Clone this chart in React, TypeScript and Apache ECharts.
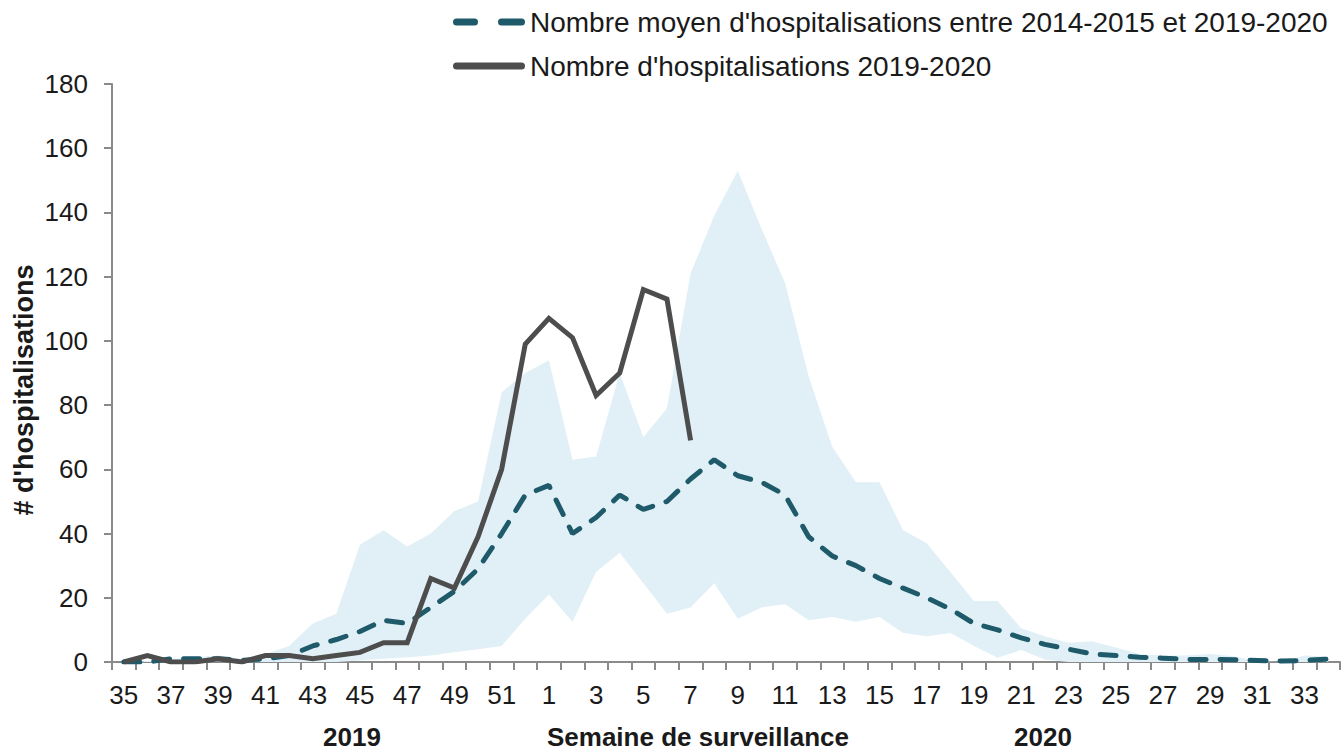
import React, { useEffect, useRef } from "react";
import * as echarts from "echarts";

const weeks = [
  "35","36","37","38","39","40","41","42","43","44","45","46","47","48","49","50","51","52",
  "1","2","3","4","5","6","7","8","9","10","11","12","13","14","15","16","17","18","19","20",
  "21","22","23","24","25","26","27","28","29","30","31","32","33","34",
];

const actual2019 = [0,2,0,0,1,0,2,2,1,2,3,6,6,26,23,39,60,99,107,101,83,90,116,113,69];

const meanHosp = [
  0,0,1,1,1,0.5,1,2,5,7,9.5,13,12,17,22,29,40,52,
  55,40,45,52,47.5,50,57,63,58,56,52,39,33,30,26,23,20,16.5,12,10,
  7.5,5.5,4,2.5,2,1.5,1.2,0.8,0.8,0.7,0.5,0.3,0.5,0.9,
];

const upperBand = [
  0,0.3,1,1.5,2,1,2.5,5,12,15,36.5,41,36,40,47,50,84,90,
  94,63,64,90,70,79,121,139,153,135,118,89,67,56,56,41,37,28,19,19,
  10.5,8,6,6.5,4.5,2.5,2,2,2.5,1.8,0.2,0,2,1.7,
];

const lowerBand = [
  0,0,0,0,0,0,0,0,0,0,0.5,1,1.5,2,3,4,5,13.5,
  21,12.5,28,34,24.5,15,17,24.5,13.5,17,18,13,14,12.5,14,9,8,9,5,1.3,
  3.7,0.8,0,0,0,0,0,0,0,0,0,0,0,0,
];

const yTicks = { min: 0, max: 180, interval: 20 };

const NAME_MEAN = "Nombre moyen d'hospitalisations entre 2014-2015 et 2019-2020";
const NAME_ACTUAL = "Nombre d'hospitalisations 2019-2020";

export default function App() {
  const ref = useRef<HTMLDivElement>(null);
  useEffect(() => {
    if (!ref.current) return;
    const chart = echarts.init(ref.current, undefined, { renderer: "svg" });
    const font = "'Liberation Sans', Arial, sans-serif";
    const axisGray = "#8a8a8a";
    const meanColor = "#1e5a6a";
    const actualColor = "#4d4d4d";
    const bandDiff = upperBand.map((u, i) => +(u - lowerBand[i]).toFixed(2));
    chart.setOption({
      animation: false,
      textStyle: { fontFamily: font },
      grid: { left: 112, right: 4, top: 84, bottom: 90, containLabel: false },
      legend: {
        data: [
          { name: NAME_MEAN, icon: "path://M3.5,0H21.5A3.5,3.5,0,0,1,21.5,7H3.5A3.5,3.5,0,0,1,3.5,0Z M48.5,0H68.5A3.5,3.5,0,0,1,68.5,7H48.5A3.5,3.5,0,0,1,48.5,0Z" },
          { name: NAME_ACTUAL, icon: "path://M3.5,0H68.5A3.5,3.5,0,0,1,68.5,7H3.5A3.5,3.5,0,0,1,3.5,0Z" },
        ],
        orient: "vertical",
        left: 448,
        top: 3,
        itemWidth: 72,
        itemHeight: 7,
        itemGap: 16,
        textStyle: { fontFamily: font, fontSize: 28, color: "#1a1a1a" },
      },
      xAxis: {
        type: "category",
        data: weeks,
        boundaryGap: true,
        axisLine: { lineStyle: { color: axisGray, width: 2 } },
        axisTick: { show: true, interval: 0, length: 8, lineStyle: { color: axisGray, width: 2 } },
        axisLabel: { interval: 1, margin: 20, fontSize: 26, color: "#1a1a1a", fontFamily: font },
        splitLine: { show: false },
      },
      yAxis: {
        type: "value",
        min: yTicks.min,
        max: yTicks.max,
        interval: yTicks.interval,
        axisLine: { show: true, lineStyle: { color: axisGray, width: 2 } },
        axisTick: { show: true, length: 8, lineStyle: { color: axisGray, width: 2 } },
        axisLabel: { margin: 24, fontSize: 26, color: "#1a1a1a", fontFamily: font },
        splitLine: { show: false },
      },
      graphic: [
        {
          type: "text",
          x: 24,
          y: 390,
          rotation: Math.PI / 2,
          style: {
            text: "# d'hospitalisations",
            font: `bold 27px ${font}`,
            fill: "#1a1a1a",
            align: "center",
            verticalAlign: "middle",
          },
        },
        {
          type: "text",
          x: 352,
          y: 737,
          style: { text: "2019", font: `bold 26px ${font}`, fill: "#1a1a1a", align: "center", verticalAlign: "middle" },
        },
        {
          type: "text",
          x: 698,
          y: 737,
          style: { text: "Semaine de surveillance", font: `bold 26px ${font}`, fill: "#1a1a1a", align: "center", verticalAlign: "middle" },
        },
        {
          type: "text",
          x: 1043,
          y: 737,
          style: { text: "2020", font: `bold 26px ${font}`, fill: "#1a1a1a", align: "center", verticalAlign: "middle" },
        },
      ],
      series: [
        {
          name: "bandLower",
          type: "line",
          data: lowerBand,
          stack: "band",
          symbol: "none",
          lineStyle: { opacity: 0 },
          silent: true,
        },
        {
          name: "bandRange",
          type: "line",
          data: bandDiff,
          stack: "band",
          symbol: "none",
          lineStyle: { opacity: 0 },
          areaStyle: { color: "#e1f0f6", opacity: 1 },
          silent: true,
        },
        {
          name: NAME_MEAN,
          type: "line",
          data: meanHosp,
          symbol: "none",
          smooth: false,
          lineStyle: { color: meanColor, width: 5, type: [16, 14], cap: "round" },
          itemStyle: { color: meanColor },
        },
        {
          name: NAME_ACTUAL,
          type: "line",
          data: actual2019,
          symbol: "none",
          lineStyle: { color: actualColor, width: 5, join: "miter" },
          itemStyle: { color: actualColor },
        },
      ],
    });
    return () => chart.dispose();
  }, []);
  return (
    <div
      ref={ref}
      style={{ position: "fixed", left: 0, top: 0, width: 1344, height: 752, background: "#fff" }}
    />
  );
}
